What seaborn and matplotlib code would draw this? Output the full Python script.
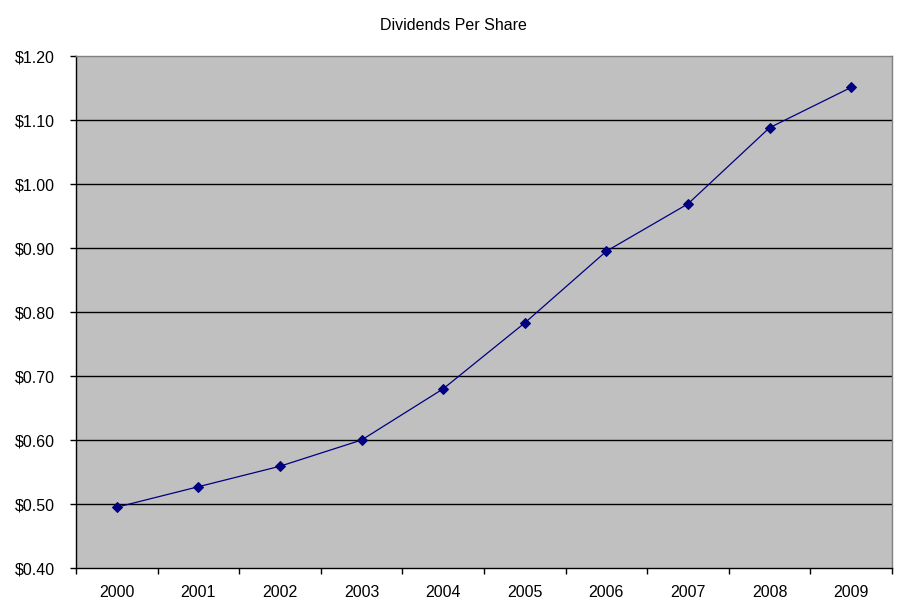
import matplotlib
matplotlib.use("Agg")
import matplotlib.pyplot as plt
import seaborn as sns
import pandas as pd
import numpy as np
from matplotlib.ticker import FixedLocator, FuncFormatter

years = ["2000", "2001", "2002", "2003", "2004", "2005", "2006", "2007", "2008", "2009"]
dividends = [0.495, 0.527, 0.559, 0.600, 0.680, 0.783, 0.895, 0.969, 1.088, 1.151]
y_ticks = [0.40, 0.50, 0.60, 0.70, 0.80, 0.90, 1.00, 1.10, 1.20]
title = "Dividends Per Share"

sns.set_style("white")
plt.rcParams['font.family'] = ['Liberation Sans', 'DejaVu Sans']
plt.rcParams['text.color'] = 'black'
plt.rcParams['xtick.labelcolor'] = 'black'
plt.rcParams['ytick.labelcolor'] = 'black'

df = pd.DataFrame({"pos": np.arange(len(years)), "div": dividends})

fig = plt.figure(figsize=(9.03, 6.15), dpi=100)
ax = fig.add_axes([76/903, 47/615, 816/903, 512/615])
ax.set_facecolor("#c0c0c0")

sns.lineplot(data=df, x="pos", y="div", ax=ax, color="#000080", linewidth=0.9,
             marker="D", markersize=5, markeredgecolor="#000080", zorder=3)

ax.set_xlim(-0.5, len(years) - 0.5)
ax.set_ylim(0.40, 1.20)
ax.set_yticks(y_ticks)
ax.yaxis.set_major_formatter(FuncFormatter(lambda v, p: f"${v:.2f}"))
for yv in y_ticks[1:-1]:
    ax.axhline(yv, color="black", linewidth=1.0, zorder=1)

ax.set_xticks(np.arange(len(years)))
ax.set_xticklabels(years)
ax.xaxis.set_minor_locator(FixedLocator(np.arange(len(years) + 1) - 0.5))
ax.tick_params(axis="x", which="major", length=0, pad=12, labelsize=11.5, labelcolor="black")
ax.tick_params(axis="x", which="minor", length=4, width=1, color="black", direction="out", bottom=True)
ax.tick_params(axis="y", which="major", length=4, width=1, color="black", direction="out", left=True,
               labelsize=11.5, pad=11, labelcolor="black")

ax.set_xlabel("")
ax.set_ylabel("")

for s in ["left", "bottom"]:
    ax.spines[s].set_color("black")
    ax.spines[s].set_linewidth(1.0)
for s in ["top", "right"]:
    ax.spines[s].set_color("#808080")
    ax.spines[s].set_linewidth(1.0)

fig.text(453/903, 1 - 25/615, title, ha="center", va="center", fontsize=11.5, color="black")

fig.savefig("out.png", dpi=100)
